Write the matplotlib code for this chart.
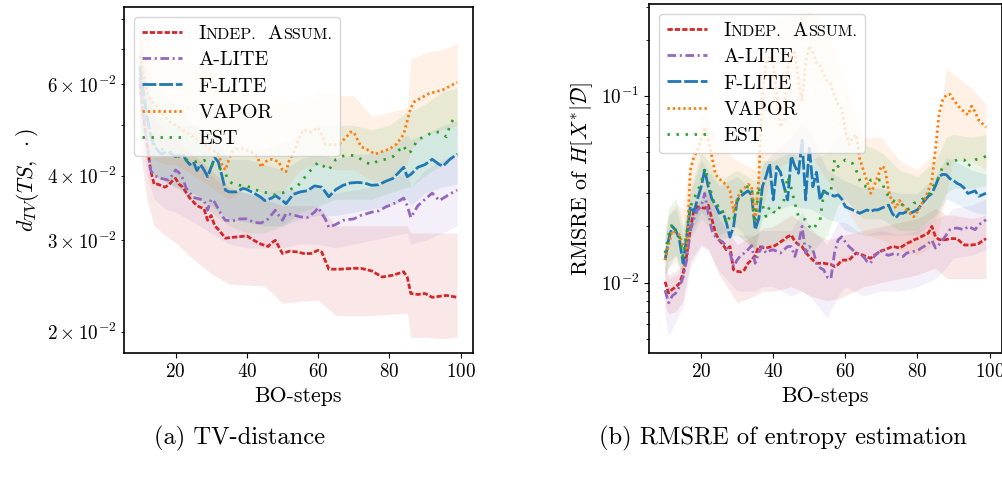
import numpy as np
import matplotlib
matplotlib.use("Agg")
import matplotlib.pyplot as plt
from matplotlib.offsetbox import TextArea, HPacker

plt.rcParams.update({
    "font.family": "serif",
    "font.serif": ["cmr10"],
    "mathtext.fontset": "cm",
    "axes.formatter.use_mathtext": True,
    "axes.unicode_minus": False,
    "font.size": 13,
})

labels = ["Indep. Assum.", "A-LITE", "F-LITE", "VAPOR", "EST"]
colors = ["#d62728", "#9467bd", "#1f77b4", "#ff7f0e", "#2ca02c"]
styles = [(0, (1.9, 0.75)), (0, (3.1, 1.3, 0.75, 1.3)), (0, (5.0, 1.0)),
          (0, (0.85, 1.05)), (0, (0.85, 2.4))]

# ---------------- (a) TV distance: means ----------------
L_red_x = [10,11,12,13,14,15,17,18,19,20,21,22,24,26,28,29,30,31,32,34,36,38,40,42,44,46,47,48,50,52,
           54,56,58,60,61,63,66,70,72,75,78,81,84,85,86,88,90,92,94,96,99]
L_red_y = [0.060,0.052,0.046,0.041,0.0385,0.0385,0.038,0.0383,0.039,0.0395,0.0385,0.038,0.0362,0.035,0.0345,
           0.0328,0.0335,0.032,0.0315,0.0303,0.0304,0.0305,0.0306,0.030,0.0295,0.0292,0.0297,0.030,0.0283,0.0286,
           0.0285,0.0283,0.0283,0.0287,0.0285,0.0264,0.0264,0.0265,0.0265,0.0262,0.0255,0.0257,0.0261,0.0255,0.0237,
           0.0236,0.0237,0.0233,0.0234,0.0235,0.0233]
L_pur_x = [10,11,12,13,14,16,18,19,20,21,22,23,25,27,28,29,30,31,33,34,36,38,40,42,44,46,48,49,50,51,
           53,55,57,59,60,62,63,65,67,70,72,75,77,79,82,84,85,86,88,90,92,94,96,98,99]
L_pur_y = [0.062,0.053,0.046,0.041,0.040,0.0395,0.0392,0.040,0.041,0.0405,0.0395,0.0378,0.0363,0.036,0.0358,
           0.0343,0.036,0.0355,0.0335,0.0328,0.0327,0.033,0.033,0.0325,0.0324,0.033,0.0343,0.0335,0.0328,0.0338,
           0.0336,0.0333,0.0332,0.034,0.0347,0.033,0.0318,0.0322,0.0328,0.033,0.0335,0.034,0.0342,0.0348,0.0355,
           0.0362,0.035,0.0332,0.035,0.036,0.037,0.0358,0.0365,0.0372,0.0375]
L_blu_x = [10,11,12,13,14,16,18,20,22,23,24,25,26,27,28,29,30,31,32,33,34,35,37,39,40,42,44,45,47,48,
           50,51,53,55,57,59,61,62,63,65,67,69,71,73,75,77,79,81,83,84,85,86,88,90,92,94,95,97,99]
L_blu_y = [0.065,0.058,0.052,0.048,0.0455,0.044,0.0445,0.0435,0.044,0.0428,0.042,0.0425,0.0409,0.042,0.041,
           0.0398,0.0415,0.0433,0.0425,0.040,0.0375,0.0372,0.0372,0.0378,0.0376,0.037,0.0363,0.0358,0.0362,0.0366,
           0.0358,0.0353,0.0368,0.0372,0.0374,0.0382,0.038,0.0372,0.0364,0.0376,0.0383,0.0387,0.0388,0.0387,0.0383,
           0.0384,0.039,0.0395,0.0408,0.0415,0.0398,0.0402,0.0415,0.042,0.043,0.042,0.0417,0.043,0.044]
L_ora_x = [10,11,12,13,14,16,18,20,22,24,26,28,30,32,33,34,35,36,37,39,41,43,44,45,47,49,50,51,52,53,
           54,55,56,58,59,60,61,62,64,66,68,69,70,71,72,74,76,78,80,82,84,85,86,87,89,91,93,95,97,99]
L_ora_y = [0.068,0.062,0.058,0.056,0.055,0.053,0.051,0.050,0.049,0.048,0.047,0.046,0.045,0.044,0.042,
           0.041,0.043,0.0445,0.045,0.045,0.0445,0.0435,0.0415,0.0425,0.043,0.0425,0.041,0.0407,0.043,0.044,
           0.046,0.048,0.049,0.0485,0.049,0.0495,0.048,0.046,0.0458,0.046,0.0475,0.0485,0.0485,0.047,0.0455,
           0.0448,0.044,0.0445,0.045,0.046,0.048,0.051,0.054,0.0555,0.0565,0.0575,0.058,0.0585,0.0595,0.0605]
L_gre_x = [10,11,12,13,14,16,18,20,22,24,26,28,30,32,34,35,36,38,40,42,44,46,48,50,52,54,56,58,60,62,
           63,65,67,69,71,73,75,77,79,81,83,84,85,86,88,90,92,94,96,97,98,99]
L_gre_y = [0.063,0.056,0.051,0.048,0.046,0.045,0.0445,0.044,0.043,0.0428,0.0425,0.0428,0.042,0.0415,0.0403,
           0.039,0.0386,0.0383,0.0382,0.0376,0.0373,0.037,0.0367,0.037,0.0376,0.038,0.0395,0.041,0.0424,0.0415,
           0.041,0.043,0.0436,0.0438,0.0435,0.0425,0.042,0.0428,0.043,0.0435,0.045,0.0457,0.0442,0.0445,0.047,
           0.0475,0.0485,0.0485,0.0475,0.050,0.0515,0.052]

# ---------------- (a) TV distance: bands ----------------
LB_x = [10,12,14,17,20,25,30,35,40,45,50,55,60,65,70,75,80,85,86,90,95,99]
L_red_lo = [0.045,0.036,0.032,0.0307,0.0297,0.0276,0.0259,0.0247,0.0246,0.0245,0.0227,0.0229,0.0230,0.0215,
            0.0215,0.0215,0.0216,0.0217,0.0195,0.0195,0.0194,0.0195]
L_red_hi = [0.075,0.060,0.052,0.048,0.047,0.044,0.041,0.038,0.037,0.036,0.035,0.035,0.035,0.032,0.032,0.032,
            0.032,0.032,0.031,0.031,0.031,0.031]
L_pur_lo = [0.050,0.040,0.036,0.0345,0.034,0.0325,0.031,0.0295,0.029,0.029,0.029,0.0295,0.0295,0.029,0.0295,
            0.030,0.0305,0.031,0.0295,0.030,0.031,0.032]
L_pur_hi = [0.070,0.052,0.046,0.044,0.044,0.042,0.040,0.0375,0.037,0.037,0.0375,0.0375,0.038,0.037,0.0375,
            0.038,0.039,0.041,0.038,0.041,0.043,0.044]
L_blu_lo = [0.050,0.044,0.040,0.039,0.038,0.037,0.035,0.033,0.0325,0.032,0.032,0.033,0.0335,0.0335,0.034,
            0.0345,0.035,0.036,0.035,0.037,0.038,0.0385]
L_blu_hi = [0.070,0.060,0.053,0.051,0.050,0.050,0.048,0.043,0.043,0.042,0.041,0.043,0.044,0.043,0.044,0.044,
            0.045,0.048,0.047,0.048,0.050,0.051]
L_ora_lo = [0.053,0.047,0.043,0.042,0.042,0.040,0.038,0.036,0.038,0.037,0.037,0.041,0.042,0.041,0.041,0.039,
            0.039,0.042,0.045,0.048,0.049,0.050]
L_ora_hi = [0.080,0.075,0.072,0.069,0.068,0.066,0.064,0.058,0.058,0.056,0.056,0.055,0.058,0.057,0.057,0.052,
            0.053,0.054,0.067,0.069,0.070,0.072]
L_gre_lo = [0.050,0.044,0.040,0.039,0.038,0.036,0.034,0.032,0.031,0.031,0.032,0.034,0.035,0.036,0.036,0.036,
            0.037,0.038,0.038,0.040,0.042,0.044]
L_gre_hi = [0.075,0.065,0.060,0.057,0.055,0.050,0.049,0.046,0.045,0.045,0.046,0.048,0.050,0.050,0.050,0.049,
            0.050,0.053,0.053,0.055,0.058,0.059]

# ---------------- (b) RMSRE: means (one value per BO-step 10..99) ----------------
R_x = list(range(10, 100))
R_red_y = [0.0101,0.0088,0.0092,0.0095,0.0099,0.0112,0.014,0.0192,0.0245,0.0255,
           0.0252,0.025,0.026,0.0218,0.0184,0.0169,0.016,0.015,0.0156,0.0117,
           0.0115,0.0114,0.0117,0.0127,0.0132,0.014,0.0156,0.0154,0.0153,0.0155,
           0.0156,0.016,0.0165,0.017,0.0176,0.018,0.0166,0.016,0.0156,0.0145,
           0.0138,0.0132,0.0127,0.0127,0.0127,0.0126,0.0125,0.0122,0.0125,0.0132,
           0.0132,0.0132,0.0138,0.0144,0.0142,0.014,0.0137,0.0135,0.014,0.0144,
           0.0148,0.015,0.0153,0.0156,0.0155,0.0153,0.0157,0.0162,0.0165,0.0169,
           0.0172,0.0176,0.018,0.0184,0.020,0.0176,0.017,0.0169,0.017,0.0172,
           0.0172,0.0172,0.0165,0.0159,0.0159,0.0159,0.016,0.0162,0.0167,0.0172]
R_pur_y = [0.0091,0.0078,0.0085,0.0088,0.0095,0.0107,0.0132,0.019,0.022,0.0245,
           0.0255,0.030,0.0235,0.019,0.0176,0.0169,0.0165,0.0156,0.0144,0.0122,
           0.0132,0.014,0.0144,0.015,0.0158,0.0127,0.0145,0.0156,0.0144,0.0148,
           0.015,0.0147,0.0144,0.015,0.0156,0.0156,0.0138,0.016,0.020,0.0144,
           0.0156,0.015,0.0127,0.012,0.0117,0.0107,0.0105,0.0144,0.0169,0.0176,
           0.0165,0.0156,0.015,0.0144,0.014,0.0138,0.013,0.0127,0.0138,0.0144,
           0.015,0.0142,0.014,0.0142,0.0144,0.014,0.0138,0.0144,0.0145,0.0147,
           0.0148,0.0153,0.0157,0.0162,0.0169,0.0153,0.016,0.0169,0.018,0.0192,
           0.0195,0.0196,0.0194,0.0192,0.020,0.0196,0.0192,0.0204,0.021,0.0217]
R_blu_y = [0.0132,0.017,0.020,0.019,0.0169,0.0127,0.0176,0.0255,0.024,0.028,
           0.0325,0.040,0.0325,0.028,0.026,0.0235,0.024,0.021,0.0175,0.020,
           0.0277,0.029,0.030,0.031,0.0295,0.0192,0.022,0.0326,0.037,0.0432,
           0.0277,0.0418,0.039,0.0326,0.0277,0.0475,0.042,0.0385,0.058,0.0277,
           0.0535,0.0326,0.039,0.0277,0.031,0.030,0.0295,0.029,0.0295,0.028,
           0.0255,0.025,0.0245,0.024,0.0235,0.024,0.0245,0.024,0.0245,0.0245,
           0.025,0.0255,0.026,0.0235,0.0222,0.0235,0.0235,0.024,0.0235,0.024,
           0.0245,0.026,0.0275,0.029,0.030,0.033,0.037,0.038,0.0378,0.036,
           0.0352,0.034,0.0333,0.032,0.030,0.0305,0.031,0.029,0.0295,0.0301]
R_ora_y = [0.0132,0.016,0.019,0.0185,0.018,0.0158,0.0148,0.040,0.047,0.051,
           0.058,0.068,0.058,0.047,0.038,0.036,0.0345,0.0335,0.031,0.024,
           0.028,0.031,0.032,0.0335,0.033,0.021,0.036,0.10,0.15,0.16,
           0.15,0.10,0.068,0.075,0.14,0.165,0.17,0.12,0.095,0.15,
           0.185,0.17,0.15,0.145,0.13,0.12,0.115,0.10,0.09,0.085,
           0.065,0.055,0.060,0.062,0.046,0.040,0.035,0.030,0.033,0.037,
           0.042,0.041,0.031,0.027,0.025,0.0275,0.026,0.0245,0.0235,0.0225,
           0.024,0.026,0.028,0.031,0.035,0.052,0.080,0.095,0.101,0.102,
           0.095,0.090,0.085,0.082,0.079,0.088,0.082,0.074,0.071,0.068]
R_gre_y = [0.0144,0.018,0.0207,0.019,0.0176,0.0138,0.0184,0.0255,0.028,0.031,
           0.034,0.041,0.0354,0.029,0.0255,0.026,0.024,0.0207,0.0226,0.0217,
           0.027,0.0301,0.0326,0.0326,0.0326,0.0207,0.0326,0.026,0.0226,0.0255,
           0.024,0.0235,0.026,0.0277,0.037,0.032,0.0266,0.0226,0.022,0.0217,
           0.020,0.0192,0.0205,0.0217,0.0301,0.031,0.031,0.0454,0.0418,0.044,
           0.0454,0.044,0.0435,0.040,0.0354,0.033,0.0326,0.0354,0.0354,0.0354,
           0.0354,0.031,0.029,0.0277,0.027,0.0266,0.026,0.0245,0.025,0.0266,
           0.027,0.0277,0.0285,0.029,0.032,0.034,0.037,0.0418,0.043,0.0435,
           0.0445,0.0454,0.0454,0.0454,0.0418,0.044,0.0454,0.046,0.0465,0.0475]

# ---------------- (b) RMSRE: bands ----------------
RB_x = [10,11,13,15,17,20,22,25,30,35,37,40,45,48,50,55,58,60,65,70,75,80,85,88,90,95,99]
R_red_lo = [.0075,.0068,.007,.008,.013,.016,.015,.011,.0078,.0085,.009,.009,.0095,.009,.0085,.008,.0082,
            .0085,.0095,.010,.0105,.011,.012,.0105,.0105,.0105,.0105]
R_red_hi = [.0125,.011,.0115,.0125,.024,.028,.029,.022,.016,.018,.0195,.020,.023,.021,.019,.017,.0175,
            .018,.019,.020,.021,.022,.025,.023,.023,.022,.023]
R_pur_lo = [.0065,.0052,.0062,.0075,.012,.0155,.015,.0115,.009,.009,.0095,.0095,.0085,.009,.0085,.0065,
            .0085,.0095,.0085,.009,.009,.0095,.0105,.012,.0135,.014,.015]
R_pur_hi = [.0115,.0105,.011,.012,.022,.030,.033,.022,.018,.018,.019,.019,.019,.024,.020,.016,.021,.021,
            .018,.019,.018,.019,.022,.023,.025,.026,.028]
R_blu_lo = [.011,.012,.014,.010,.018,.024,.022,.018,.020,.015,.022,.024,.026,.025,.025,.022,.021,.019,
            .018,.018,.018,.018,.022,.028,.027,.024,.023]
R_blu_hi = [.017,.023,.025,.018,.030,.045,.040,.033,.037,.030,.042,.050,.060,.070,.065,.040,.037,.035,
            .032,.032,.030,.030,.037,.047,.045,.040,.038]
R_ora_lo = [.011,.012,.013,.011,.020,.030,.028,.022,.018,.015,.025,.040,.045,.045,.050,.035,.030,.025,
            .018,.017,.015,.014,.016,.030,.045,.045,.040]
R_ora_hi = [.020,.023,.026,.025,.045,.080,.075,.055,.045,.040,.150,.250,.270,.270,.280,.220,.150,.120,
            .060,.060,.045,.040,.050,.140,.130,.110,.090]
R_gre_lo = [.011,.013,.014,.011,.017,.022,.020,.017,.018,.015,.016,.016,.017,.015,.014,.018,.026,.028,
            .022,.022,.019,.019,.023,.030,.032,.032,.033]
R_gre_hi = [.018,.025,.028,.020,.032,.050,.045,.035,.040,.035,.045,.045,.050,.045,.045,.050,.060,.065,
            .055,.050,.040,.037,.045,.060,.062,.060,.062]

FS_TICK, FS_LEG, FS_LAB, FS_CAP = 13.8, 14.5, 15.8, 17.7

W, H = 1003, 480
fig = plt.figure(figsize=(W / 100, H / 100), dpi=100)
axL = fig.add_axes([124 / W, 1 - 353 / H, 349 / W, 346 / H])
axR = fig.add_axes([649 / W, 1 - 353 / H, 353 / W, 349 / H])

left_lines = [(L_red_x, L_red_y), (L_pur_x, L_pur_y), (L_blu_x, L_blu_y), (L_ora_x, L_ora_y), (L_gre_x, L_gre_y)]
left_bands = [(L_red_lo, L_red_hi), (L_pur_lo, L_pur_hi), (L_blu_lo, L_blu_hi), (L_ora_lo, L_ora_hi), (L_gre_lo, L_gre_hi)]
right_lines = [R_red_y, R_pur_y, R_blu_y, R_ora_y, R_gre_y]
right_bands = [(R_red_lo, R_red_hi), (R_pur_lo, R_pur_hi), (R_blu_lo, R_blu_hi), (R_ora_lo, R_ora_hi), (R_gre_lo, R_gre_hi)]

for i in range(5):
    axL.fill_between(LB_x, left_bands[i][0], left_bands[i][1], color=colors[i], alpha=0.1, lw=0)
    axL.plot(left_lines[i][0], left_lines[i][1], color=colors[i], ls=styles[i], lw=2.0, label=labels[i])
    axR.fill_between(RB_x, right_bands[i][0], right_bands[i][1], color=colors[i], alpha=0.1, lw=0)
    axR.plot(R_x, right_lines[i], color=colors[i], ls=styles[i], lw=2.0, label=labels[i])

for ax in (axL, axR):
    ax.set_yscale("log")
    ax.set_xlim(5.55, 103.45)
    ax.set_xticks([20, 40, 60, 80, 100])
    ax.tick_params(which="both", labelsize=FS_TICK, direction="out")
    ax.set_xlabel("BO-steps", fontsize=FS_LAB)
    for s in ax.spines.values():
        s.set_linewidth(1.2)

axL.set_ylim(0.0182, 0.0845)
axR.set_ylim(0.0042, 0.31)
axL.set_ylabel(r"$d_{TV}(TS,\ \cdot)$", fontsize=FS_LAB)
axR.set_ylabel(r"RMSRE of $H[X^{*}|\mathcal{D}]$", fontsize=FS_LAB)


def smallcaps_legend(ax):
    leg = ax.legend(loc="upper left", fontsize=FS_LEG, handlelength=2.0, labelspacing=0.4)
    try:
        item = leg._legend_handle_box.get_children()[0].get_children()[0]
        big = dict(fontsize=FS_LEG)
        small = dict(fontsize=FS_LEG * 0.8)
        g1 = HPacker(children=[TextArea("I", textprops=big), TextArea("NDEP.", textprops=small)],
                     align="baseline", pad=0, sep=0)
        g2 = HPacker(children=[TextArea("A", textprops=big), TextArea("SSUM.", textprops=small)],
                     align="baseline", pad=0, sep=0)
        box = HPacker(children=[g1, g2], align="baseline", pad=0, sep=FS_LEG * 0.55)
        box.set_figure(fig)
        item.get_children()[1] = box
    except Exception:
        pass
    return leg


smallcaps_legend(axL)
smallcaps_legend(axR)

fig.text(240 / W, 1 - 438 / H, "(a) TV-distance", ha="center", va="center", fontsize=FS_CAP)
fig.text(783 / W, 1 - 438 / H, "(b) RMSRE of entropy estimation", ha="center", va="center", fontsize=FS_CAP)

fig.savefig("out.png", dpi=100)
